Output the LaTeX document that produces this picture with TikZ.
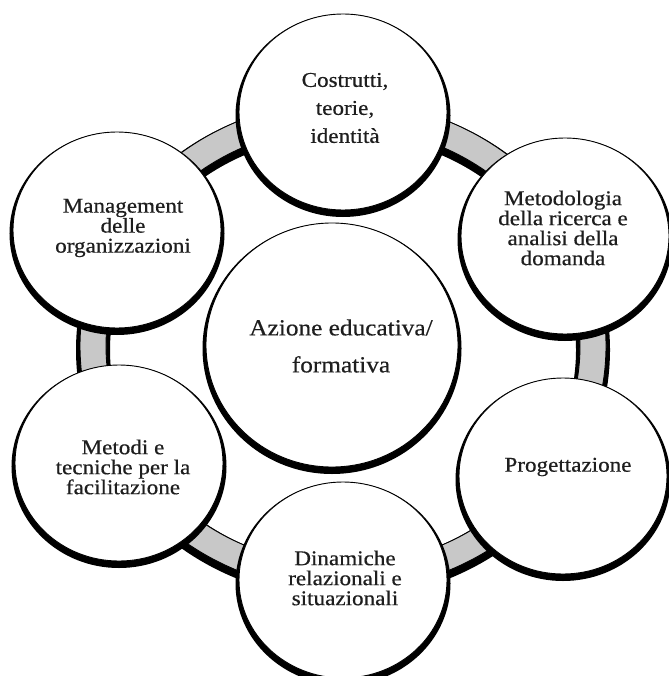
\documentclass[tikz,border=0pt]{standalone}
\usepackage{fontspec}
\setmainfont{Liberation Serif}[FakeStretch=1.1]
\newfontfamily\lblfont{Liberation Serif}[FakeStretch=1.1,UprightFeatures={FakeBold=0.5}]
\usetikzlibrary{shapes.geometric,shadows}
\definecolor{ringgray}{HTML}{C8C8C8}
\definecolor{txt}{HTML}{1E1E1E}
\begin{document}
\begin{tikzpicture}[x=1pt,y=-1pt,
  bubble/.style={shape=ellipse, fill=white, draw=black, line width=0.9pt, inner sep=0pt,
    minimum width=208pt, minimum height=196pt,
    general shadow={draw=black, line width=7pt, shadow yshift=-3.5pt}},
  lbl/.style={align=center, text=txt, inner sep=0pt, font=\lblfont\fontsize{21}{20}\selectfont}]
\useasboundingbox (0,0) rectangle (668,676);
% ring
\draw[line width=34pt, black] (343,350) ellipse [x radius=250, y radius=232];
\draw[line width=26pt, ringgray] (343,346) ellipse [x radius=250, y radius=232];
\draw[line width=0.9pt] (343,346) ellipse [x radius=263, y radius=245];
\draw[line width=0.9pt] (343,346) ellipse [x radius=237, y radius=219];
% circles
\node[bubble] (c1) at (343,112) {};
\node[bubble] (c2) at (565,236) {};
\node[bubble] (c3) at (563,476) {};
\node[bubble] (c4) at (343,580) {};
\node[bubble] (c5) at (119,463) {};
\node[bubble] (c6) at (117,230) {};
\node[bubble, minimum width=252pt, minimum height=244pt] (c0) at (332,345) {};
% labels
\node[lbl, font=\lblfont\fontsize{21}{28}\selectfont] (t1) at (345,108) {Costrutti,\\teorie,\\identità};
\node[lbl] (t2) at (563,228) {Metodologia\\della ricerca e\\analisi della\\domanda};
\node[lbl] (t3) at (568,467) {Progettazione};
\node[lbl] (t4) at (345,578) {Dinamiche\\relazionali e\\situazionali};
\node[lbl] (t5) at (123,467) {Metodi e\\tecniche per la\\facilitazione};
\node[lbl] (t6) at (123,228) {Management\\delle\\organizzazioni};
\node[lbl, font=\lblfont\fontsize{23}{37}\selectfont] (t0) at (341,346) {Azione educativa/\\formativa};
\end{tikzpicture}
\end{document}
